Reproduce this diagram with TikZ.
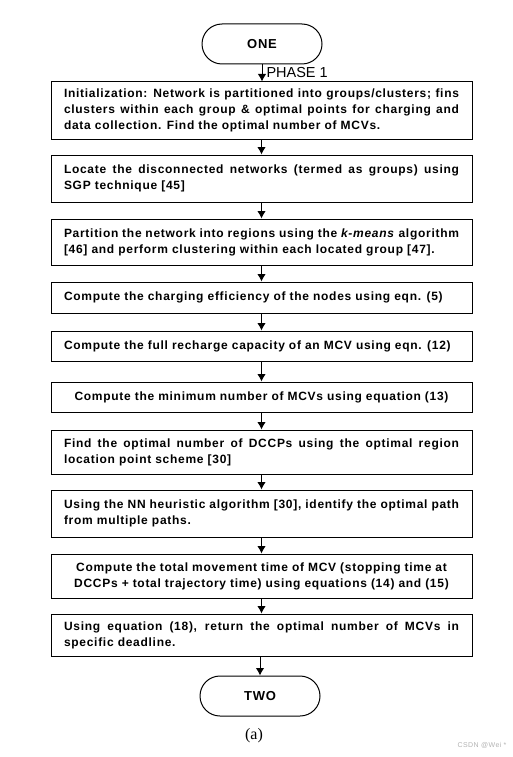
\documentclass[tikz,border=0pt]{standalone}
\usepackage{fontspec}
\usetikzlibrary{arrows.meta}
\setmainfont{Liberation Sans}[LetterSpace=6]
\newfontfamily\phasefont{Liberation Sans}
\newfontfamily\capfont{Liberation Serif}
\hyphenpenalty=10000
\exhyphenpenalty=10000
\begin{document}
\begin{tikzpicture}[x=1pt,y=-1pt]
    \def\cx{261.5}

    \useasboundingbox (0,0) rectangle (512,757);

    \tikzstyle{stage}=[draw=black,line width=1pt,text width=395pt,inner xsep=13pt,inner ysep=2pt,align=justify,font=\bfseries\fontsize{12}{16}\selectfont]
    \tikzstyle{mid}=[stage,align=center]
    \tikzstyle{term}=[draw=black,line width=1pt,minimum width=120pt,minimum height=40pt,rounded corners=20pt,font=\bfseries\fontsize{13}{14}\selectfont]

    \node[term]  (one) at (262,44) {ONE};

    \node[stage,minimum height=57pt] (init) at (\cx,110.5) {Initialization: Network is partitioned into groups/clusters; fins clusters within each group \& optimal points for charging and data collection. Find the optimal number of MCVs.};
    \node[stage,minimum height=47pt] (locate) at (\cx,178.5) {Locate the disconnected networks (termed as groups) using SGP technique [45]};
    \node[stage,minimum height=46pt] (part) at (\cx,242) {Partition the network into regions using the \textit{k-means} algorithm [46] and perform clustering within each located group [47].};
    \node[stage,minimum height=31pt] (eff) at (\cx,297.5) {Compute the charging efficiency of the nodes using eqn. (5)};
    \node[stage,minimum height=30pt] (cap) at (\cx,346) {Compute the full recharge capacity of an MCV using eqn. (12)};
    \node[mid,minimum height=30pt] (minmcv) at (\cx,397) {Compute the minimum number of MCVs using equation (13)};
    \node[stage,minimum height=44pt] (dccp) at (\cx,452) {Find the optimal number of DCCPs using the optimal region location point scheme [30]};
    \node[stage,minimum height=47pt] (path) at (\cx,513.5) {Using the NN heuristic algorithm [30], identify the optimal path from multiple paths.};
    \node[mid,minimum height=44pt] (move) at (\cx,576) {Compute the total movement time of MCV (stopping time at\\DCCPs + total trajectory time) using equations (14) and (15)};
    \node[stage,minimum height=42pt] (ret) at (\cx,635) {Using equation (18), return the optimal number of MCVs in specific deadline.};

    \node[term]  (two) at (260,696) {TWO};

    \node[font=\capfont\fontsize{16}{18}\selectfont] (cap a) at (254,736) {(a)};
    \node[font=\fontsize{7}{8}\selectfont,text=black!30,anchor=east] (mark) at (510,745) {CSDN @Wei *};

    \pgfsetarrowsend{Latex[length=7.5pt,width=8.5pt]}
    \tikzstyle{fwd} = [draw=black, line width=1pt]

          \draw [fwd] (one) -- node[pos=0.5,right,inner sep=4pt,font=\phasefont\fontsize{14.5}{15}\selectfont] {PHASE 1} (init.north -| one);
          \draw [fwd] (init) -- (locate);
          \draw [fwd] (locate) -- (part);
          \draw [fwd] (part) -- (eff);
          \draw [fwd] (eff) -- (cap);
          \draw [fwd] (cap) -- (minmcv);
          \draw [fwd] (minmcv) -- (dccp);
          \draw [fwd] (dccp) -- (path);
          \draw [fwd] (path) -- (move);
          \draw [fwd] (move) -- (ret);
          \draw [fwd] (ret.south -| two) -- (two);

  \end{tikzpicture}
\end{document}
